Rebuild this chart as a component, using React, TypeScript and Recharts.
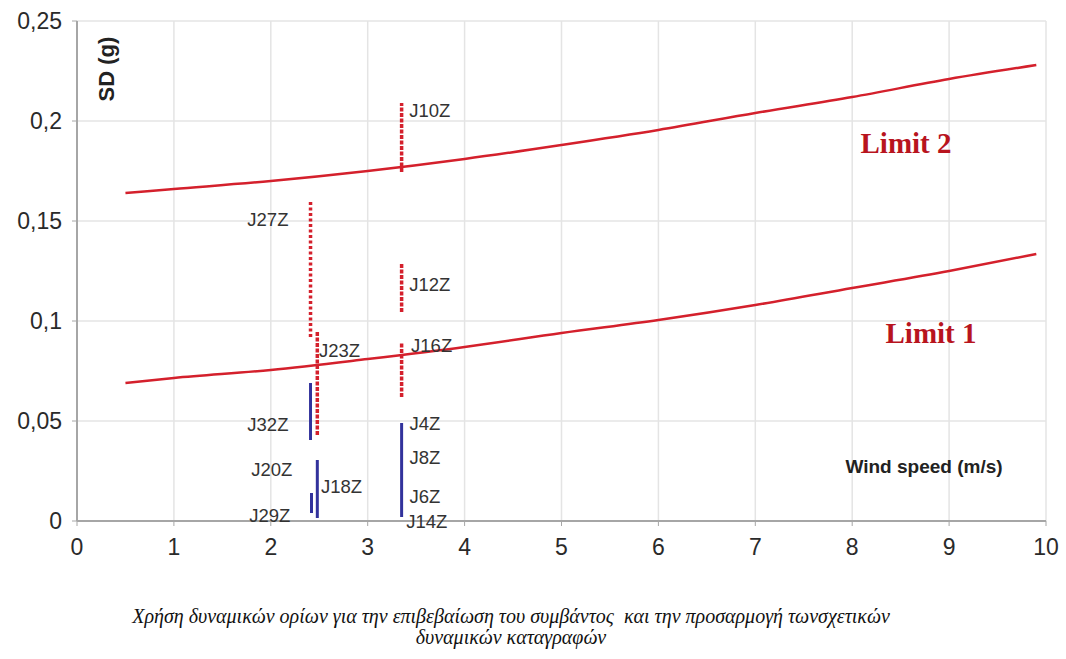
import { ComposedChart, Line, Scatter, XAxis, YAxis, CartesianGrid, ReferenceLine } from 'recharts';

// limit curves (SD threshold vs wind speed)
const limitX = [0.5, 1, 2, 3, 4, 5, 6, 7, 8, 9, 9.9];
const limit1 = [0.069, 0.0715, 0.0755, 0.081, 0.087, 0.094, 0.1005, 0.108, 0.1165, 0.125, 0.1335];
const limit2 = [0.164, 0.166, 0.17, 0.175, 0.181, 0.188, 0.1955, 0.204, 0.212, 0.221, 0.228];

// recorded events: wind speed, SD range, above limit or not
const eventX = [2.41, 2.48, 2.41, 2.48, 2.42, 3.35, 3.35, 3.35, 3.35];
const eventLow = [0.092, 0.043, 0.0405, 0.0015, 0.004, 0.1745, 0.1045, 0.062, 0.002];
const eventHigh = [0.1595, 0.0945, 0.069, 0.0305, 0.014, 0.209, 0.129, 0.0895, 0.049];
const eventAbove = [true, true, false, false, false, true, true, true, false];
const eventSparse = [true, false, false, false, false, false, false, false, false];

// event name labels
const labelNames = ['J10Z', 'J27Z', 'J12Z', 'J23Z', 'J16Z', 'J32Z', 'J4Z', 'J8Z', 'J20Z', 'J18Z', 'J6Z', 'J29Z', 'J14Z'];
const labelX = [3.64, 1.97, 3.64, 2.71, 3.66, 1.97, 3.59, 3.59, 2.01, 2.73, 3.59, 1.99, 3.61];
const labelY = [0.2055, 0.151, 0.1185, 0.0855, 0.088, 0.0485, 0.049, 0.032, 0.026, 0.0175, 0.0125, 0.003, 0.0];

const xTicks = [0, 1, 2, 3, 4, 5, 6, 7, 8, 9, 10];
const yTicks = [0, 0.05, 0.1, 0.15, 0.2, 0.25];

const RED = '#d4202c';
const BLUE = '#32329c';
const AXIS = '#a6a6a6';

const curveData = limitX.map((x, i) => ({ x, limit1: limit1[i], limit2: limit2[i] }));
const labelData = labelNames.map((name, i) => ({ x: labelX[i], y: labelY[i], name }));

const tickFont = { fontFamily: 'Liberation Sans, Arial, sans-serif', fontSize: 23, fill: '#2a2a2a' };

const EventLabel = (props: any) => (
  <text
    x={props.cx}
    y={props.cy}
    textAnchor="middle"
    dominantBaseline="central"
    fontFamily="Liberation Sans, Arial, sans-serif"
    fontSize={18.5}
    fill="#333"
  >
    {props.payload.name}
  </text>
);

export default function App() {
  return (
    <div style={{ position: 'absolute', left: 0, top: 0, width: 1066, height: 659, background: '#fff' }}>
      <ComposedChart
        width={1066}
        height={580}
        data={curveData}
        margin={{ top: 21, right: 20, left: 0, bottom: 0 }}
      >
        <CartesianGrid stroke="#e4e4e4" strokeWidth={1.5} />
        <XAxis
          type="number"
          dataKey="x"
          domain={[0, 10]}
          ticks={xTicks}
          height={59}
          tick={tickFont}
          tickSize={5}
          tickMargin={13}
          axisLine={{ stroke: AXIS, strokeWidth: 2 }}
          tickLine={{ stroke: AXIS }}
        />
        <YAxis
          type="number"
          domain={[0, 0.25]}
          ticks={yTicks}
          width={77}
          tick={tickFont}
          tickSize={5}
          tickMargin={10}
          tickFormatter={(v: number) => (v === 0 ? '0' : String(v).replace('.', ','))}
          axisLine={{ stroke: AXIS, strokeWidth: 2 }}
          tickLine={{ stroke: AXIS }}
        />
        <Line type="monotone" dataKey="limit1" stroke={RED} strokeWidth={2.5} dot={false} isAnimationActive={false} />
        <Line type="monotone" dataKey="limit2" stroke={RED} strokeWidth={2.5} dot={false} isAnimationActive={false} />
        {eventX.map((x, i) => (
          <ReferenceLine
            key={`ev-${i}`}
            segment={[{ x, y: eventLow[i] }, { x, y: eventHigh[i] }]}
            stroke={eventAbove[i] ? RED : BLUE}
            strokeWidth={eventAbove[i] ? 3.5 : 3}
            strokeDasharray={eventSparse[i] ? '3 2.5' : eventAbove[i] ? '4 1.5' : undefined}
          />
        ))}
        <Scatter data={labelData} dataKey="y" shape={EventLabel} isAnimationActive={false} />
      </ComposedChart>

      <div style={{ position: 'absolute', left: 107, top: 69, transform: 'translate(-50%, -50%) rotate(-90deg)', fontFamily: 'Liberation Sans, Arial, sans-serif', fontWeight: 'bold', fontSize: 22, color: '#222', whiteSpace: 'nowrap' }}>
        SD (g)
      </div>
      <div style={{ position: 'absolute', left: 924, top: 467, transform: 'translate(-50%, -50%)', fontFamily: 'Liberation Sans, Arial, sans-serif', fontWeight: 'bold', fontSize: 19, color: '#222', whiteSpace: 'nowrap' }}>
        Wind speed (m/s)
      </div>
      <div style={{ position: 'absolute', left: 906, top: 143, transform: 'translate(-50%, -50%)', fontFamily: 'Liberation Serif, Times New Roman, serif', fontWeight: 'bold', fontSize: 29, color: '#b8141e', whiteSpace: 'nowrap' }}>
        Limit 2
      </div>
      <div style={{ position: 'absolute', left: 931, top: 333, transform: 'translate(-50%, -50%)', fontFamily: 'Liberation Serif, Times New Roman, serif', fontWeight: 'bold', fontSize: 29, color: '#b8141e', whiteSpace: 'nowrap' }}>
        Limit 1
      </div>

      <div style={{ position: 'absolute', left: 0, top: 606, width: 1022, textAlign: 'center', fontFamily: 'Liberation Serif, Times New Roman, serif', fontStyle: 'italic', fontSize: 20, lineHeight: '21px', color: '#111' }}>
        Χρήση δυναμικών ορίων για την επιβεβαίωση του συμβάντος&nbsp; και την προσαρμογή τωνσχετικών
        <br />
        δυναμικών καταγραφών
      </div>
    </div>
  );
}
